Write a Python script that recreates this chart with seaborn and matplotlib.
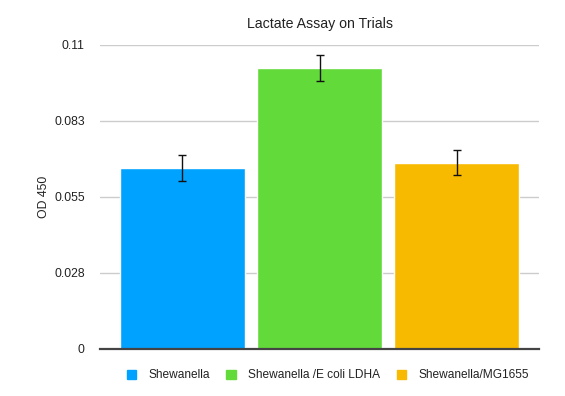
import pandas as pd
import matplotlib
matplotlib.use("Agg")
import matplotlib.pyplot as plt
import seaborn as sns

# data
strains = ["Shewanella", "Shewanella /E coli LDHA", "Shewanella/MG1655"]
od450 = [0.0653, 0.1016, 0.0674]
od450_err = [0.0047, 0.0048, 0.0046]
colors = ["#00A2FF", "#62DA3A", "#F8BA00"]
tick_values = [0, 0.0275, 0.055, 0.0825, 0.11]
tick_labels = ["0", "0.028", "0.055", "0.083", "0.11"]


def main():
    sns.set_style("white")
    plt.rcParams["font.family"] = ["Liberation Sans", "DejaVu Sans"]

    df = pd.DataFrame({"group": ["Trials"] * 3, "strain": strains, "od": od450})

    fig = plt.figure(figsize=(5.65, 3.96), dpi=100)
    ax = fig.add_axes([0.177, 0.119, 0.777, 0.768])

    sns.barplot(data=df, x="group", y="od", hue="strain", hue_order=strains,
                palette=colors, width=0.91, gap=0.09, errorbar=None,
                saturation=1, ax=ax, legend=False)

    # error bars at the centre of each drawn bar
    bars = [p for p in ax.patches]
    xs = [p.get_x() + p.get_width() / 2 for p in bars]
    hs = [p.get_height() for p in bars]
    ax.errorbar(xs, hs, yerr=od450_err, fmt="none", ecolor="#111111",
                elinewidth=1.0, capsize=2.6, capthick=1.0, zorder=5)

    ax.set_ylim(0, 0.11)
    ax.set_yticks(tick_values)
    ax.set_yticklabels(tick_labels)
    ax.set_xticks([])
    ax.set_xlabel("")
    ax.set_ylabel("OD 450", fontsize=8.8, color="#222222", labelpad=3)
    ax.tick_params(axis="y", length=0, labelsize=8.8, labelcolor="#222222", pad=11)
    ax.yaxis.grid(True, color="#cccccc", linewidth=1)
    ax.set_axisbelow(True)
    for side in ["top", "right", "left"]:
        ax.spines[side].set_visible(False)
    ax.spines["bottom"].set_color("#444444")
    ax.spines["bottom"].set_linewidth(1.6)
    ax.spines["bottom"].set_zorder(6)

    ax.set_title("Lactate Assay on Trials", fontsize=10.2, color="#222222", pad=12)

    handles = [plt.Rectangle((0, 0), 1, 1, color=c) for c in colors]
    fig.legend(handles, strains, loc="center", bbox_to_anchor=(0.58, 0.052),
               ncol=3, frameon=False, fontsize=8.6, handlelength=0.8,
               handleheight=0.8, handletextpad=1.0, columnspacing=1.4,
               labelcolor="#222222")

    fig.savefig("out.png", dpi=100)


if __name__ == "__main__":
    main()
